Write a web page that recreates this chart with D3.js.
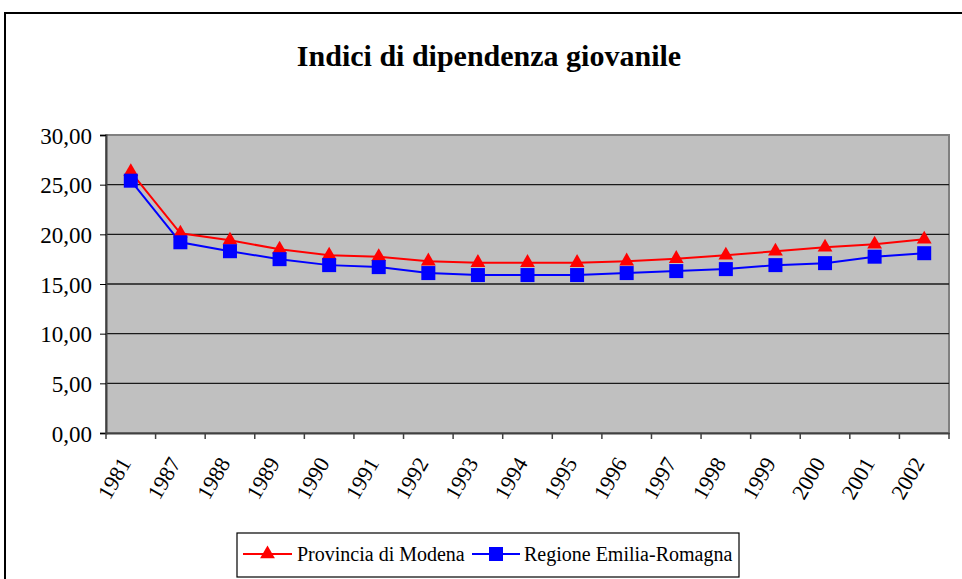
<!DOCTYPE html>
<html>
<head>
<meta charset="utf-8">
<script src="https://cdn.jsdelivr.net/npm/d3@7"></script>
<style>
  body { margin: 0; background: #ffffff; }
  svg { display: block; }
  svg text { font-family: "Liberation Serif", "Times New Roman", serif; fill: #000000; }
</style>
</head>
<body>
<div id="chart"></div>
<script>
const years = ['1981', '1987', '1988', '1989', '1990', '1991', '1992', '1993', '1994',
               '1995', '1996', '1997', '1998', '1999', '2000', '2001', '2002'];

const modena = [26.3, 20.1, 19.4, 18.5, 17.9, 17.75, 17.3, 17.15, 17.15,
                17.15, 17.3, 17.55, 17.9, 18.3, 18.7, 19.0, 19.5];

const emilia = [25.4, 19.2, 18.3, 17.5, 16.9, 16.7, 16.1, 15.9, 15.9,
                15.9, 16.1, 16.3, 16.5, 16.9, 17.1, 17.75, 18.1];

const yTicks = [0, 5, 10, 15, 20, 25, 30];

const seriesNames = ['Provincia di Modena', 'Regione Emilia-Romagna'];

const width = 962;
const height = 579;
const plot = {left: 106, right: 949, top: 135, bottom: 433};

window.onload = function() {
     drawChart();
};

function drawChart(){
     let svg = d3.select('#chart')
                    .append('svg')
                         .attr('width', width)
                         .attr('height', height);

     // outer frame of the chart
     svg.append('rect')
          .attr('x', 5)
          .attr('y', 13)
          .attr('width', 1000)
          .attr('height', 700)
          .attr('fill', '#ffffff')
          .attr('stroke', '#000000')
          .attr('stroke-width', 2);

     // title
     svg.append('text')
          .attr('x', 489)
          .attr('y', 66)
          .attr('text-anchor', 'middle')
          .style('font-size', '30px')
          .style('font-weight', 'bold')
          .text('Indici di dipendenza giovanile');

     const xScale = d3.scaleBand()
                         .domain(years)
                         .range([plot.left, plot.right])
                         .padding(0);

     const yScale = d3.scaleLinear()
                         .domain([0, 30])
                         .range([plot.bottom, plot.top]);

     // grey plot area
     svg.append('rect')
          .attr('x', plot.left)
          .attr('y', plot.top)
          .attr('width', plot.right - plot.left)
          .attr('height', plot.bottom - plot.top)
          .attr('fill', '#c0c0c0')
          .attr('stroke', '#808080')
          .attr('stroke-width', 2);

     // gridlines
     svg.append('g')
          .selectAll('line')
          .data(yTicks.filter(t => t > 0 && t < 30))
          .enter()
               .append('line')
                    .attr('x1', plot.left)
                    .attr('x2', plot.right)
                    .attr('y1', d => yScale(d))
                    .attr('y2', d => yScale(d))
                    .attr('stroke', '#1a1a1a')
                    .attr('stroke-width', 1.3);

     // y-axis
     let yAxis = svg.append('g')
          .attr('transform', `translate(${plot.left}, 0)`)
          .call(d3.axisLeft(yScale)
                    .tickValues(yTicks)
                    .tickSize(6)
                    .tickPadding(8)
                    .tickFormat(d => d3.format('.2f')(d).replace('.', ',')));
     yAxis.select('.domain').attr('stroke', '#404040').attr('stroke-width', 2);
     yAxis.selectAll('.tick line').attr('stroke', '#000000');
     yAxis.selectAll('text')
          .style('font-size', '23px')
          .attr('dy', '0.35em');

     // x-axis, ticks on the category boundaries
     let xAxis = svg.append('g')
          .attr('transform', `translate(0, ${plot.bottom})`)
          .call(d3.axisBottom(xScale).tickSize(0).tickFormat(''));
     xAxis.select('.domain').attr('stroke', '#404040').attr('stroke-width', 2);

     svg.append('g')
          .selectAll('line')
          .data(years)
          .enter()
               .append('line')
                    .attr('x1', d => xScale(d))
                    .attr('x2', d => xScale(d))
                    .attr('y1', plot.bottom)
                    .attr('y2', plot.bottom + 6)
                    .attr('stroke', '#404040')
                    .attr('stroke-width', 1.5);
     svg.append('line')
          .attr('x1', plot.right)
          .attr('x2', plot.right)
          .attr('y1', plot.bottom)
          .attr('y2', plot.bottom + 6)
          .attr('stroke', '#404040')
          .attr('stroke-width', 1.5);

     // rotated year labels
     svg.append('g')
          .selectAll('text')
          .data(years)
          .enter()
               .append('text')
                    .attr('transform', d => `translate(${xScale(d) + xScale.bandwidth() / 2 + 1}, 463) rotate(-60)`)
                    .attr('text-anchor', 'end')
                    .style('font-size', '22px')
                    .text(d => d);

     let cx = d => xScale(d) + xScale.bandwidth() / 2;

     let line = d3.line()
                    .x((d, i) => cx(years[i]))
                    .y(d => yScale(d));

     // red series with triangles
     svg.append('path')
          .datum(modena)
          .attr('d', line)
          .attr('fill', 'none')
          .attr('stroke', '#ff0000')
          .attr('stroke-width', 2);

     // blue series with squares
     svg.append('path')
          .datum(emilia)
          .attr('d', line)
          .attr('fill', 'none')
          .attr('stroke', '#0000ff')
          .attr('stroke-width', 2);

     let triangle = d3.symbol().type(d3.symbolTriangle).size(95);

     svg.append('g')
          .selectAll('path')
          .data(modena)
          .enter()
               .append('path')
                    .attr('d', triangle)
                    .attr('transform', (d, i) => `translate(${cx(years[i])}, ${yScale(d)})`)
                    .attr('fill', '#ff0000');

     svg.append('g')
          .selectAll('rect')
          .data(emilia)
          .enter()
               .append('rect')
                    .attr('x', (d, i) => cx(years[i]) - 7)
                    .attr('y', d => yScale(d) - 7)
                    .attr('width', 14)
                    .attr('height', 14)
                    .attr('fill', '#0000ff');

     drawLegend(svg, triangle);
}

function drawLegend(svg, triangle){
     let legend = svg.append('g')
          .attr('transform', 'translate(237, 533)');

     legend.append('rect')
          .attr('width', 502)
          .attr('height', 44)
          .attr('fill', '#ffffff')
          .attr('stroke', '#000000')
          .attr('stroke-width', 1.2);

     // Provincia di Modena
     legend.append('line')
          .attr('x1', 6).attr('x2', 55)
          .attr('y1', 21).attr('y2', 21)
          .attr('stroke', '#ff0000').attr('stroke-width', 2);
     legend.append('path')
          .attr('d', triangle)
          .attr('transform', 'translate(30.5, 21)')
          .attr('fill', '#ff0000');
     legend.append('text')
          .attr('x', 60)
          .attr('y', 28)
          .style('font-size', '20px')
          .text(seriesNames[0]);

     // Regione Emilia-Romagna
     legend.append('line')
          .attr('x1', 235).attr('x2', 283)
          .attr('y1', 21).attr('y2', 21)
          .attr('stroke', '#0000ff').attr('stroke-width', 2);
     legend.append('rect')
          .attr('x', 252).attr('y', 14)
          .attr('width', 14).attr('height', 14)
          .attr('fill', '#0000ff');
     legend.append('text')
          .attr('x', 287)
          .attr('y', 28)
          .style('font-size', '20px')
          .text(seriesNames[1]);
}
</script>
</body>
</html>
